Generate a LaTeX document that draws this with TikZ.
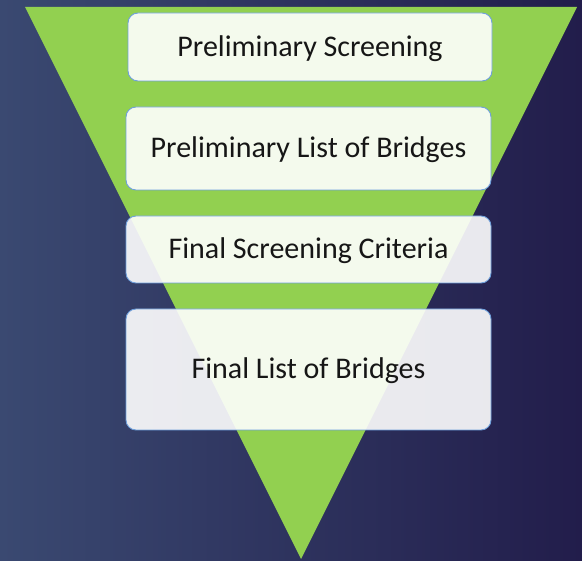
\documentclass[tikz,border=0pt]{standalone}
\usepackage{fontspec}
\setmainfont{Carlito}
\definecolor{funnelgreen}{HTML}{92D050}
\definecolor{bgleft}{HTML}{3A4971}
\definecolor{bgright}{HTML}{221D4B}
\definecolor{boxline}{HTML}{6FA0DC}
\definecolor{stagetext}{HTML}{161616}
\tikzset{
  stagebox/.style={draw=boxline, line width=0.9pt, fill=white, fill opacity=0.9,
    text opacity=1, rounded corners=10pt, minimum width=365pt, inner sep=0pt,
    text depth=2pt,
    font=\fontsize{30}{34}\selectfont, text=stagetext}
}
\begin{document}
\begin{tikzpicture}[x=1pt,y=-1pt]
  % page frame and background
  \useasboundingbox (0,0) rectangle (582,561);
  \shade[shading angle=75, left color=bgleft, right color=bgright] (0,0) rectangle (582,561);
  % funnel
  \coordinate (tl) at (25,7);
  \coordinate (tr) at (577,7);
  \coordinate (apex) at (301,559);
  \fill[funnelgreen] (tl) -- (tr) -- (apex) -- cycle;
  % stages
  \node[stagebox, minimum width=364pt, minimum height=68pt] (s1) at (310,47) {Preliminary Screening};
  \node[stagebox, minimum height=83pt] (s2) at (308.5,148.5) {Preliminary List of Bridges};
  \node[stagebox, minimum height=67pt] (s3) at (308.5,249.5) {Final Screening Criteria};
  \node[stagebox, minimum height=121pt] (s4) at (308.5,369.5) {Final List of Bridges};
\end{tikzpicture}
\end{document}
